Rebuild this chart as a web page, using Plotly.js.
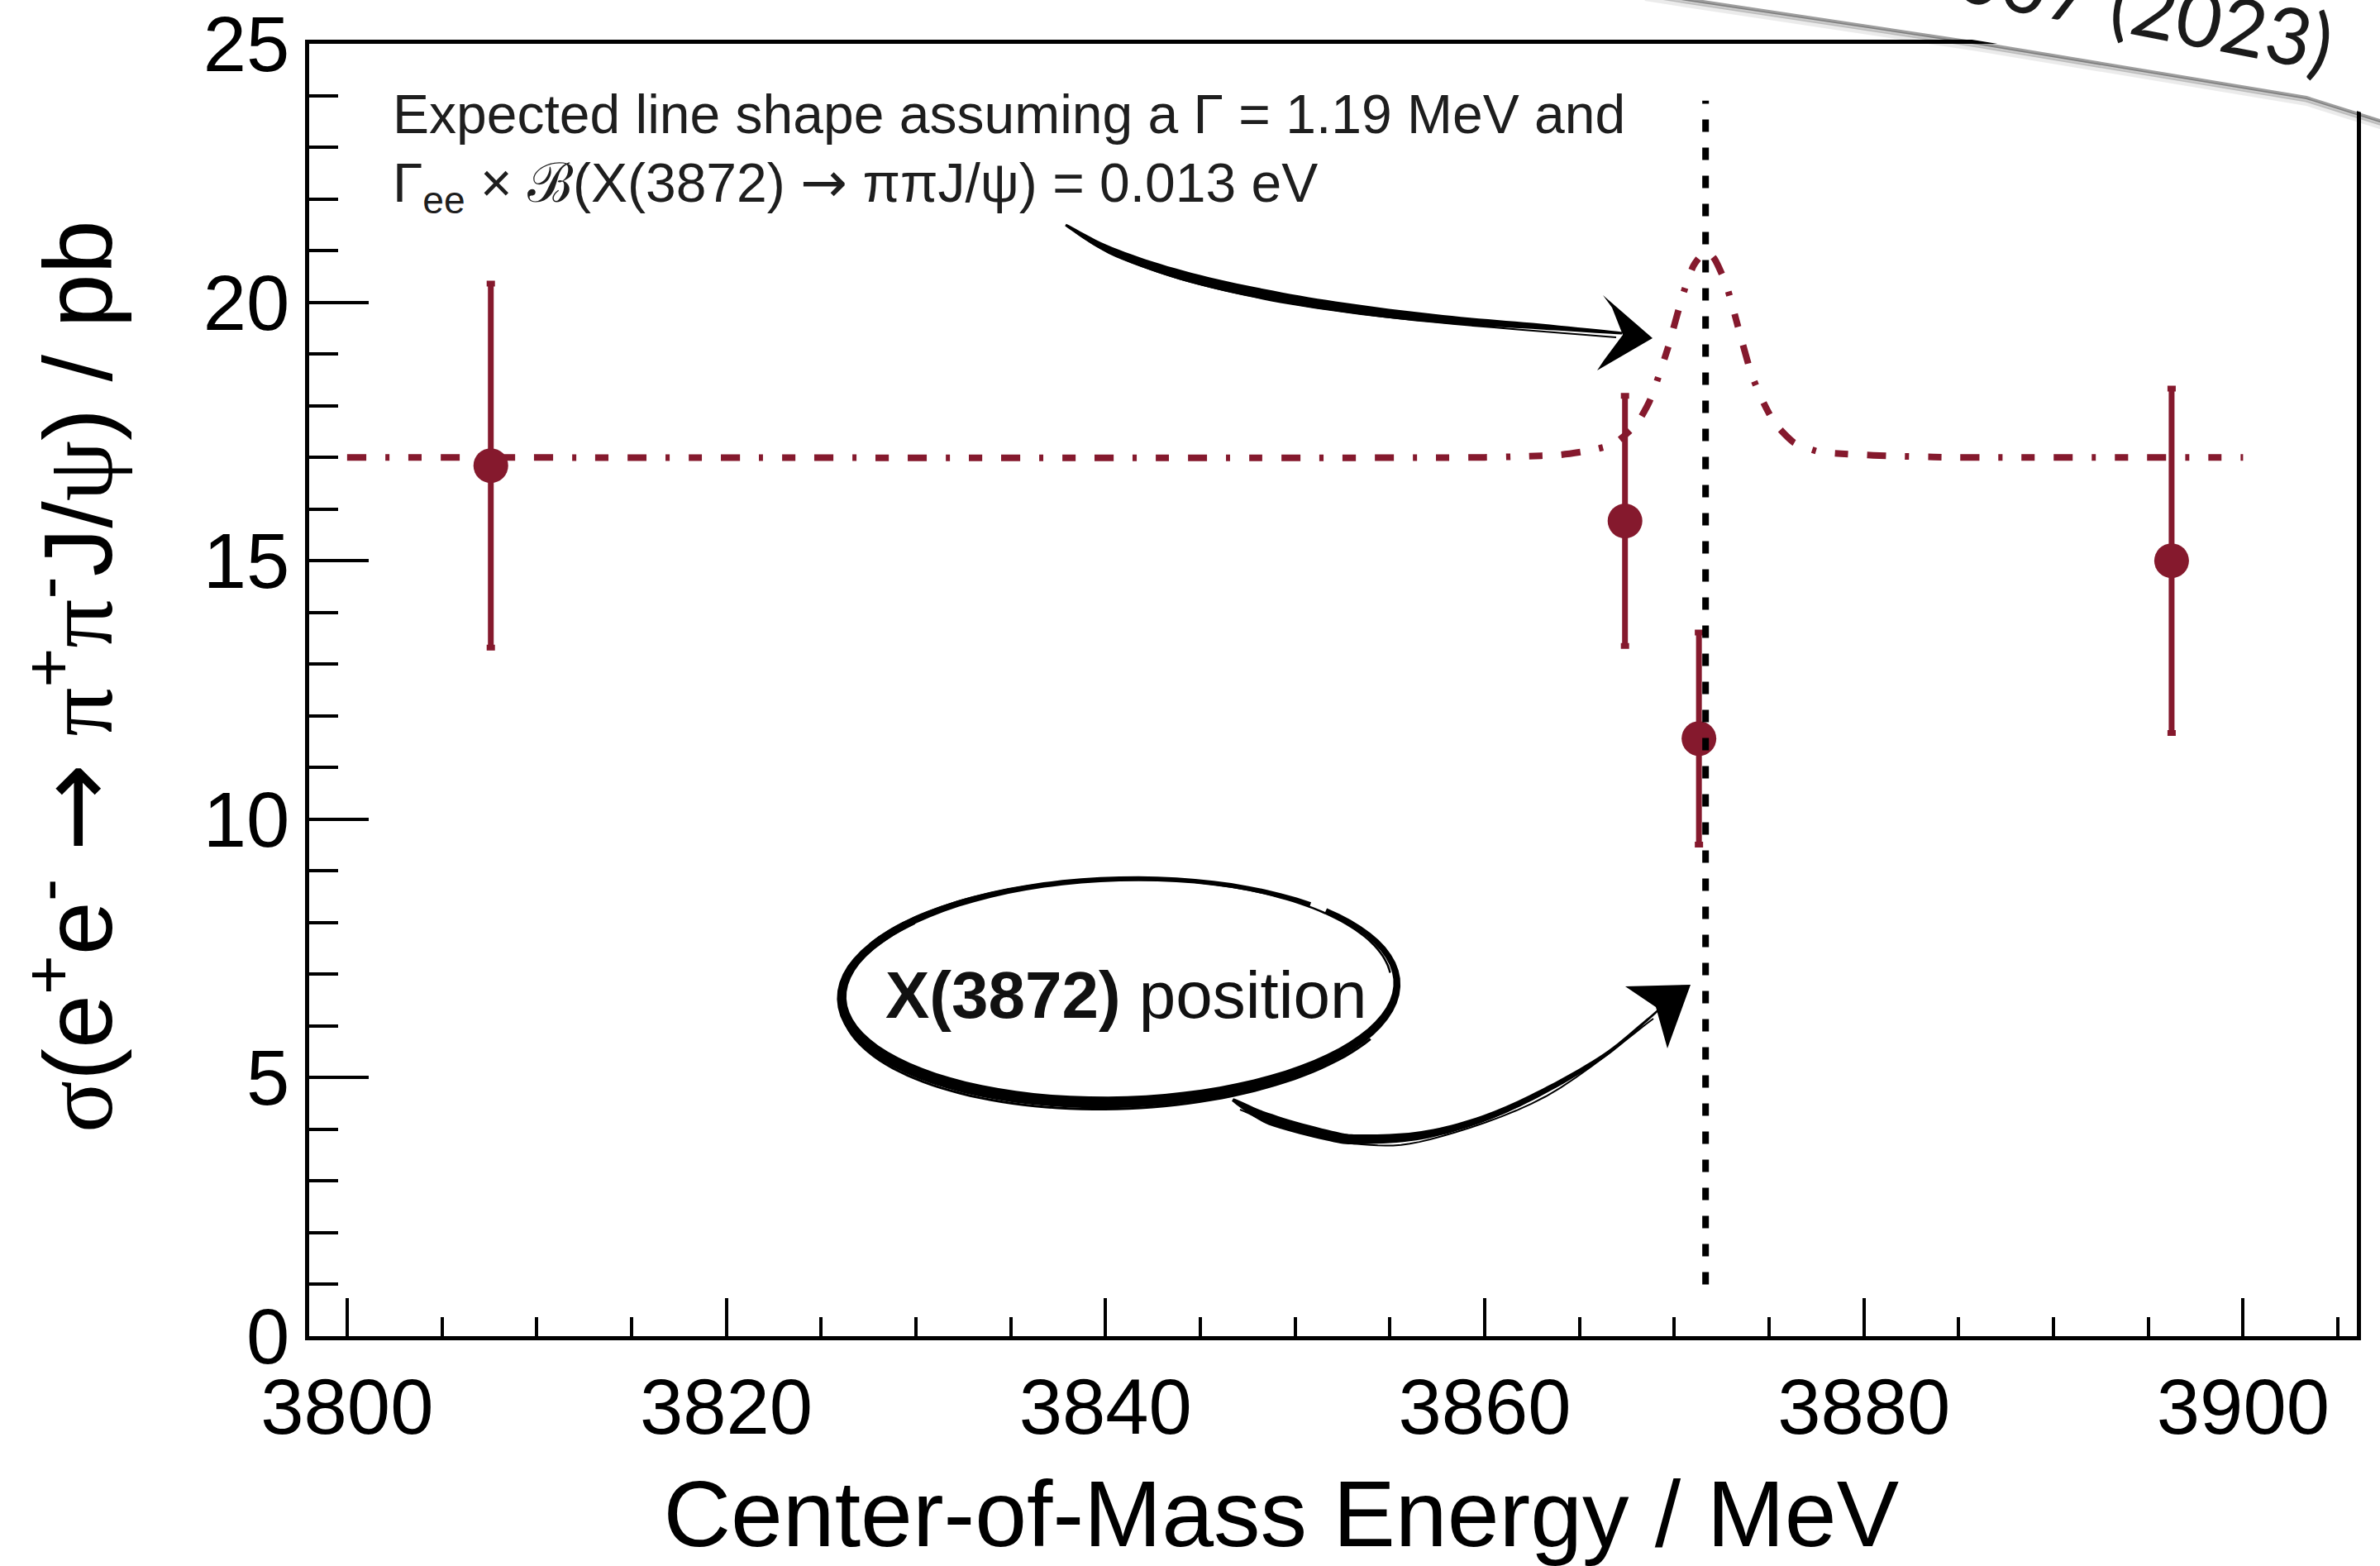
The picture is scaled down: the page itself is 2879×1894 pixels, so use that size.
<!DOCTYPE html>
<html><head><meta charset="utf-8">
<script src="https://cdn.plot.ly/plotly-3.0.1.min.js"></script>
<style>html,body{margin:0;padding:0;background:#fff;}#chart{width:2879px;height:1894px;}</style>
</head><body><div id="chart"></div>
<script>
// ---- data ----
const energies = [3807.58, 3867.40, 3871.30, 3896.23];
const xsec = [16.84, 15.77, 11.56, 15.00];
const xsecErr = [3.52, 2.42, 2.05, 3.33];
const lineShapeE = [3800, 3860, 3862, 3864, 3865.5, 3866.8, 3868.0, 3868.7, 3869.25, 3869.7, 3870.1, 3870.5, 3871.0, 3871.4, 3871.75, 3872.1, 3872.7, 3873.1, 3873.5, 3874.05, 3874.6, 3875.3, 3876.3, 3877.6, 3878.8, 3880.5, 3882, 3885, 3900];
const lineShapeXsec = [17.0, 17.0, 17.02, 17.05, 17.13, 17.26, 17.64, 18.09, 18.65, 19.16, 19.69, 20.2, 20.7, 20.9, 20.97, 20.85, 20.38, 19.88, 19.34, 18.63, 18.14, 17.66, 17.29, 17.11, 17.07, 17.04, 17.02, 17.0, 17.0];
const x3872Mass = [3871.65, 3871.65];
const x3872LineY = [1.0, 23.9];
const xTickVals = [3800, 3820, 3840, 3860, 3880, 3900];
const yTickVals = [0, 5, 10, 15, 20, 25];

const RED = '#85192d';
const SANS = 'Liberation Sans, Arial, Helvetica, sans-serif';
const SERIF = 'Liberation Serif, Times New Roman, serif';
const NB = '\u00a0', ZW = '\u200b';

// ---- plot-area geometry (pixels) used only for decorations ----
const W = 2879, H = 1894, L = 374, R = 2851, T = 53, B = 1616;
const px = v => (v - L) / (R - L);
const py = v => (B - v) / (B - T);
const P = p => px(p[0]).toFixed(5) + ',' + py(p[1]).toFixed(5);
function poly(pts, close) {
  return pts.map((p, i) => (i ? 'L' : 'M') + P(p)).join(' ') + (close ? ' Z' : '');
}
function catmull(pts, ws, n) {
  const out = [], ow = [];
  for (let i = 0; i < pts.length - 1; i++) {
    const p0 = pts[Math.max(i - 1, 0)], p1 = pts[i], p2 = pts[i + 1], p3 = pts[Math.min(i + 2, pts.length - 1)];
    for (let k = 0; k < n; k++) {
      const t = k / n, t2 = t * t, t3 = t2 * t;
      const f = (a, b, c, d) => 0.5 * ((2 * b) + (-a + c) * t + (2 * a - 5 * b + 4 * c - d) * t2 + (-a + 3 * b - 3 * c + d) * t3);
      out.push([f(p0[0], p1[0], p2[0], p3[0]), f(p0[1], p1[1], p2[1], p3[1])]);
      ow.push(ws[i] + (ws[i + 1] - ws[i]) * t);
    }
  }
  out.push(pts[pts.length - 1]); ow.push(ws[ws.length - 1]);
  return [out, ow];
}
function taper(pts, ws) {
  const left = [], right = [];
  for (let i = 0; i < pts.length; i++) {
    const a = pts[Math.max(i - 1, 0)], b = pts[Math.min(i + 1, pts.length - 1)];
    let tx = b[0] - a[0], ty = b[1] - a[1];
    const len = Math.hypot(tx, ty) || 1;
    const nx = -ty / len, ny = tx / len, h = ws[i] / 2;
    left.push([pts[i][0] + nx * h, pts[i][1] + ny * h]);
    right.push([pts[i][0] - nx * h, pts[i][1] - ny * h]);
  }
  return poly(left.concat(right.reverse()), true);
}
function ellipsePts(cx, cy, rx, ry, rot, t0, t1, n) {
  const out = [], c = Math.cos(rot), s = Math.sin(rot);
  for (let i = 0; i <= n; i++) {
    const t = t0 + (t1 - t0) * i / n;
    const ex = rx * Math.cos(t), ey = ry * Math.sin(t);
    out.push([cx + ex * c - ey * s, cy + ex * s + ey * c]);
  }
  return out;
}
const inkShape = (path) => ({type: 'path', xref: 'paper', yref: 'paper', path: path, fillcolor: '#000', line: {width: 0}, layer: 'above'});
const inkLine = (path, w, col) => ({type: 'path', xref: 'paper', yref: 'paper', path: path, line: {width: w, color: col || '#000'}, layer: 'above'});

const shapes = [];
// arrow 1 (to the line shape)
{
  const c = catmull([[1289, 272], [1344, 303], [1430, 333], [1539, 358], [1647, 375], [1756, 387], [1864, 395], [1962, 403]],
                    [3, 9, 12, 13, 12, 10, 7, 3], 10);
  shapes.push(inkShape(taper(c[0], c[1])));
  const c2 = catmull([[1300, 280], [1350, 310], [1440, 341], [1545, 364], [1650, 380], [1760, 392], [1955, 408]], [1, 1, 1, 1, 1, 1, 1], 8);
  shapes.push(inkLine(poly(c2[0]), 2));
  shapes.push(inkShape(poly([[1939, 357], [1999, 409], [1932, 448], [1940, 436], [1963, 405], [1950, 372]], true)));
}
// ellipse around the label
{
  const rot = -0.03;
  const n = 90;
  const e = ellipsePts(1354, 1198, 336, 135, rot, -0.72, -0.72 + 2 * Math.PI - 0.08, n);
  const ws = e.map((p, i) => { const t = -0.72 + (2 * Math.PI - 0.08) * i / n; return 10 + 4 * Math.sin(t) - 1.5 * Math.cos(t); });
  shapes.push(inkShape(taper(e, ws)));
  shapes.push(inkLine(poly(ellipsePts(1357, 1202, 340, 139, rot - 0.01, 0.5, 3.9, 80)), 3));
  shapes.push(inkLine(poly(ellipsePts(1351, 1194, 332, 131, rot + 0.01, 3.6, 6.2, 80)), 2.5));
}
// arrow 2 (to the X(3872) line)
{
  const c = catmull([[1491, 1330], [1537, 1354], [1610, 1374], [1647, 1378], [1720, 1373], [1794, 1353], [1867, 1320], [1940, 1277], [1992, 1234], [2014, 1214]],
                    [4, 14, 13, 12, 10, 8, 7, 5, 3, 2], 10);
  shapes.push(inkShape(taper(c[0], c[1])));
  const c2 = catmull([[1500, 1342], [1560, 1366], [1647, 1384], [1730, 1378], [1870, 1326], [2000, 1232]], [1, 1, 1, 1, 1, 1], 8);
  shapes.push(inkLine(poly(c2[0]), 2));
  shapes.push(inkShape(poly([[1966, 1193], [2045, 1191], [2017, 1268], [2003, 1218]], true)));
}
// sheet of paper lying over the top-right corner
{
  const edge = [[1990, -12], [2040, -4], [2392, 49], [2790, 115], [2879, 143], [2910, 150]];
  const off = d => edge.map(p => [p[0], p[1] + d]);
  shapes.push(inkLine(poly(off(10)), 6, 'rgba(0,0,0,0.08)'));
  shapes.push(inkLine(poly(off(6)), 5, 'rgba(0,0,0,0.20)'));
  shapes.push(inkLine(poly(off(3)), 4, 'rgba(0,0,0,0.38)'));
  shapes.push({type: 'path', xref: 'paper', yref: 'paper', path: poly(edge.concat([[2910, -80], [1990, -80]]), true),
               fillcolor: '#ffffff', line: {width: 0}, layer: 'above'});
}

const traces = [
  {x: lineShapeE, y: lineShapeXsec, type: 'scatter', mode: 'lines',
   line: {color: RED, width: 8, dash: '23px,23px,5px,23px,16px,23px', shape: 'spline', smoothing: 0.6},
   hoverinfo: 'skip'},
  {x: energies, y: xsec, type: 'scatter', mode: 'markers',
   marker: {color: RED, size: 42, line: {width: 0}},
   error_y: {type: 'data', array: xsecErr, visible: true, color: RED, thickness: 7, width: 5}},
  {x: x3872Mass, y: x3872LineY, type: 'scatter', mode: 'lines',
   line: {color: '#000', width: 8, dash: '15px,19px'}, hoverinfo: 'skip'}
];

const axisCommon = {showgrid: false, zeroline: false, showline: true, linecolor: '#000', linewidth: 5, mirror: true,
                    ticks: 'inside', tickcolor: '#000', tickwidth: 4, tickfont: {family: SANS, size: 94, color: '#000'}};

const gr = s => '<span style="font-family:' + SERIF + '">' + s + '</span>';
const arrowBig = '<span style="font-family:DejaVu Sans;font-size:128px">→</span>';
const arrowSmall = '<span style="font-family:DejaVu Sans;font-size:68px">→</span>';

const layout = {
  width: W, height: H,
  margin: {l: L, r: W - R, t: T, b: H - B, pad: 0},
  paper_bgcolor: '#fff', plot_bgcolor: '#fff', showlegend: false,
  xaxis: Object.assign({}, axisCommon, {
    range: [3798, 3906], tickmode: 'array', tickvals: xTickVals, ticktext: xTickVals.map(String), ticklen: 46,
    minor: {tickmode: 'linear', tick0: 3800, dtick: 5, ticklen: 23, tickwidth: 4, tickcolor: '#000', ticks: 'inside'},
    title: {text: 'Center-of-Mass Energy / MeV' + NB + NB + NB + NB + ZW, font: {family: SANS, size: 113, color: '#000'}, standoff: 40}
  }),
  yaxis: Object.assign({}, axisCommon, {
    range: [0, 25], tickmode: 'array', tickvals: yTickVals, ticktext: yTickVals.map(String), ticklen: 72,
    minor: {tickmode: 'linear', tick0: 0, dtick: 1, ticklen: 35, tickwidth: 4, tickcolor: '#000', ticks: 'inside'},
    title: {text: ZW + NB + gr('σ') + '(e<sup>+</sup>e<sup>-</sup> ' + arrowBig + ' ' + gr('π') + '<sup>+</sup>' + gr('π') + '<sup>-</sup>J/' + gr('ψ') + ') / pb',
            font: {family: SANS, size: 117, color: '#000'}, standoff: 72}
  }),
  shapes: shapes,
  annotations: [
    {xref: 'paper', yref: 'paper', x: px(473), y: py(99), xanchor: 'left', yanchor: 'top', showarrow: false,
     text: 'Expected line shape assuming a Γ = 1.19 MeV and', font: {family: SANS, size: 66, color: '#1e1e1e'}},
    {xref: 'paper', yref: 'paper', x: px(473), y: py(179), xanchor: 'left', yanchor: 'top', showarrow: false,
     text: 'Γ<sub>ee</sub> × ℬ(X(3872) ' + arrowSmall + ' ππJ/ψ) = 0.013 eV', font: {family: SANS, size: 66, color: '#1e1e1e'}},
    {xref: 'paper', yref: 'paper', x: px(1069), y: py(1157), xanchor: 'left', yanchor: 'top', showarrow: false,
     text: '<b>X(3872)</b> position', font: {family: SANS, size: 80, color: '#111'}},
    {xref: 'paper', yref: 'paper', x: px(2514), y: py(-9), xanchor: 'center', yanchor: 'middle', showarrow: false,
     textangle: 11, text: 'Phys. Rev. D 107, 032007 (2023)'.slice(-13), font: {family: 'Lato, ' + SANS, size: 95, color: '#1a1a1a', weight: 400}}
  ]
};

Plotly.newPlot('chart', traces, layout, {staticPlot: true, displayModeBar: false});
</script>
</body></html>
